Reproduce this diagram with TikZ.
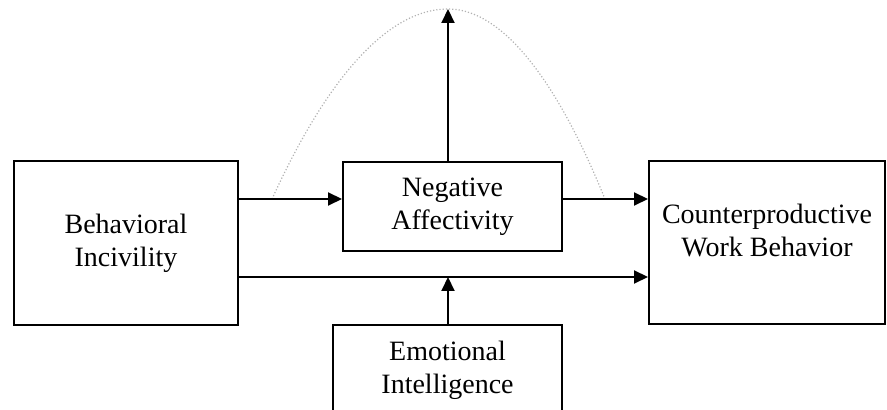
\documentclass[tikz,border=0pt]{standalone}
\usepackage{fontspec}
\setmainfont{Liberation Serif}
\usetikzlibrary{arrows.meta}

\begin{document}
\begin{tikzpicture}[x=0.5pt,y=-0.5pt,line width=1pt,
        box/.style={draw,align=center,font=\fontsize{14}{16.5}\selectfont},
        arr/.style={-{Triangle[length=7pt,width=6.5pt]}}]
        \useasboundingbox (0,0) rectangle (887,410);
        \clip (0,0) rectangle (887,410);
        \node[box,minimum width=112pt,minimum height=82pt](bi) at (126,243) {Behavioral\\Incivility};
        \node[box,minimum width=109.5pt,minimum height=44.5pt](na) at (452.5,206.5) {Negative\\Affectivity};
        \node[box,minimum width=118pt,minimum height=81.5pt](cwb) at (767,242.5) {Counterproductive\\Work Behavior\\[-4.5pt]};
        \node[box,minimum width=114.5pt,minimum height=45pt](ei) at (447.5,370) {Emotional\\Intelligence};
        \coordinate(top) at (448,9);
        \coordinate(upper) at (0,199);
        \coordinate(lower) at (0,277);
        \coordinate(meet) at (448,277);
        \draw[gray!60,line width=0.6pt,densely dotted](272,199) parabola bend (top) (605,199);
        \draw[arr](bi.east |- upper)--(na.west |- upper);
        \draw[arr](na.east |- upper)--(cwb.west |- upper);
        \draw[arr](bi.east |- lower)--(cwb.west |- lower);
        \draw[arr](na.north -| top)--(top);
        \draw[arr](ei.north -| meet)--(meet);
\end{tikzpicture}
\end{document}
